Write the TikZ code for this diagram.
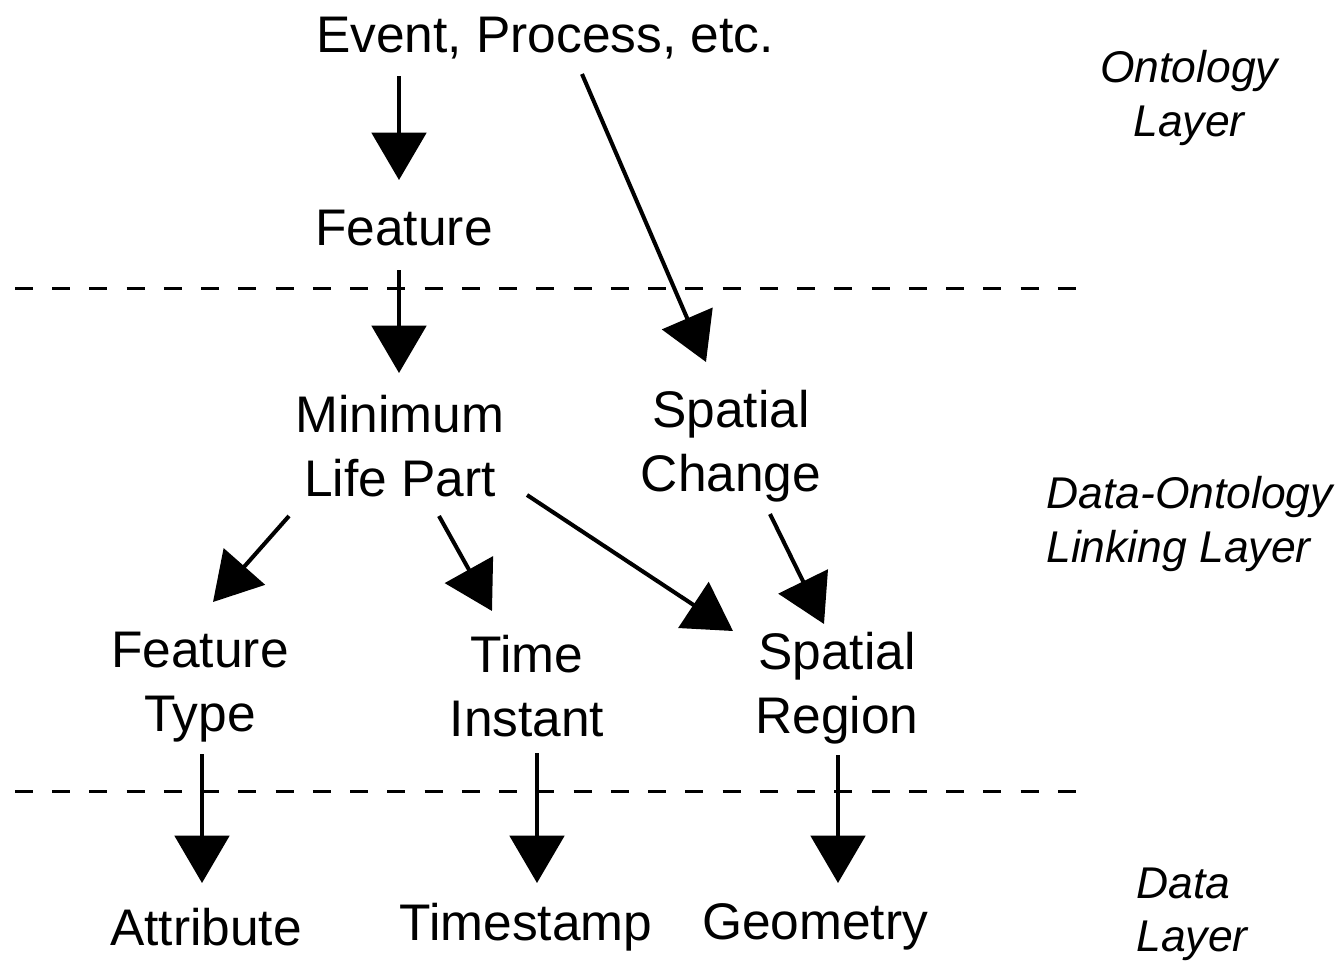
\documentclass[tikz,border=0pt]{standalone}
\usepackage{fontspec}
\setmainfont{Liberation Sans}
\usetikzlibrary{arrows.meta,calc}

\begin{document}
\begin{tikzpicture}[x=0.02cm,y=-0.02cm,
    concept/.style={font=\fontsize{29.3}{36.3}\selectfont,align=center,inner sep=0pt},
    layer/.style={font=\fontsize{25.3}{30.2}\selectfont\itshape,inner sep=0pt},
    link/.style={line width=2.3pt,-{Triangle[length=27pt,width=31pt]}},
    divider/.style={line width=1.7pt,dash pattern=on 10.2pt off 11pt}]
    \useasboundingbox (0,0) rectangle (1339,961);
    % layer borders
    \draw[divider] (15,288) -- (1082,288);
    \draw[divider] (15,791) -- (1082,791);
    % ontology layer
    \node[concept] (event) at (545,38) {Event, Process, etc.};
    \node[concept] (feature) at (404,228) {Feature};
    % linking layer
    \node[concept] (mlp) at (400,446) {Minimum\\Life Part};
    \node[concept] (spchange) at (731,446) {Spatial\\Change};
    \node[concept] (ftype) at (200,687) {Feature\\Type};
    \node[concept] (tinst) at (527,686) {Time\\Instant};
    \node[concept] (spreg) at (837,688) {Spatial\\Region};
    % data layer
    \node[concept] (attr) at (206,927) {Attribute};
    \node[concept] (tstamp) at (526,927) {Timestamp};
    \node[concept] (geom) at (815,927) {Geometry};
    % layer names
    \node[layer,align=center] (ontlayer) at (1189,98) {Ontology\\Layer};
    \node[layer,align=left,anchor=west] (linklayer) at (1046,524) {Data-Ontology\\Linking Layer};
    \node[layer,align=left,anchor=west] (datalayer) at (1136,914) {Data\\Layer};
    % links
    \draw[link] ($(event)+(-146,38)$) -- ($(feature)+(-5,-48)$);
    \draw[link] ($(feature)+(-5,42)$) -- ($(mlp)+(-1,-73)$);
    \draw[link] ($(event)+(37,36)$) -- ($(spchange)+(-25,-84)$);
    \draw[link] ($(mlp)+(-111,70)$) -- ($(ftype)+(13,-85)$);
    \draw[link] ($(mlp)+(39,70)$) -- ($(tinst)+(-35,-75)$);
    \draw[link] ($(mlp)+(127,49)$) -- ($(spreg)+(-104,-57)$);
    \draw[link] ($(spchange)+(39,68)$) -- ($(spreg)+(-13,-64)$);
    \foreach \a/\b/\s/\e in {ftype/attr/2/-4, tinst/tstamp/10/11, spreg/geom/1/23}
        \draw[link] ($(\a)+(\s,67)$) -- ($(\b)+(\e,-44)$);
\end{tikzpicture}
\end{document}
